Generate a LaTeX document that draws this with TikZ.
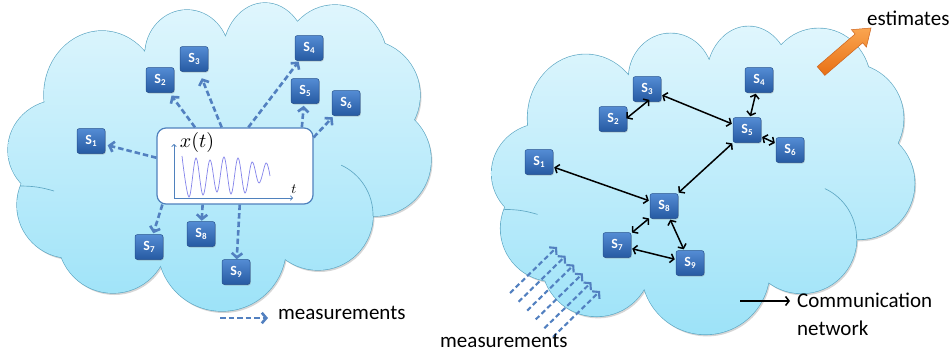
\documentclass[tikz,border=0pt]{standalone}
\usepackage[no-math]{fontspec}
\setmainfont{Carlito}
\usetikzlibrary{arrows.meta,shadows}

\definecolor{cloudtop}{RGB}{224,246,253}
\definecolor{cloudbot}{RGB}{155,226,248}
\definecolor{cloudline}{RGB}{95,168,196}
\definecolor{senstop}{RGB}{84,140,212}
\definecolor{sensbot}{RGB}{38,90,162}
\definecolor{sensline}{RGB}{36,80,142}
\definecolor{measblue}{RGB}{82,128,192}
\definecolor{axisblue}{RGB}{79,129,189}
\definecolor{wavecol}{RGB}{130,130,235}
\definecolor{orangetop}{RGB}{250,165,80}
\definecolor{orangebot}{RGB}{232,112,20}
\definecolor{orangeline}{RGB}{205,100,30}

\newcommand\cloudshape{(102,95) ellipse [x radius=58, y radius=64]
 (187,55) ellipse [x radius=42, y radius=45]
 (265,55) ellipse [x radius=42, y radius=52]
 (335,60) ellipse [x radius=52, y radius=55]
 (365,95) circle [radius=55]
 (375,160) circle [radius=56]
 (318,215) circle [radius=55]
 (222,247) circle [radius=64]
 (113,238) circle [radius=55]
 (70,205) circle [radius=53]
 (60,150) ellipse [x radius=52, y radius=50]
 (220,160) ellipse [x radius=150, y radius=110]}
\newcommand\slab[1]{S\kern0.2pt\raisebox{-2pt}{\fontsize{9}{9}\selectfont #1}}
\newcommand\labfont{\fontsize{21}{25}\selectfont}

\tikzset{
  cloudpic/.pic={
    \fill[black,opacity=.16,shift={(1.5,2)}] \cloudshape;
    \draw[cloudline,line width=1.3pt] \cloudshape;
    \begin{scope}
      \clip \cloudshape;
      \shade[top color=cloudtop,bottom color=cloudbot] (0,0) rectangle (440,320);
    \end{scope}
    \draw[cloudline,line width=.65pt] (318,215) ++(-65:55) arc[start angle=-65,end angle=1,radius=55];
    \draw[cloudline,line width=.65pt] (20,186) to[bend left=8] (54,191);
  },
  sensor/.style={rounded corners=2.5pt, minimum width=28pt, minimum height=25pt,
    inner sep=0pt, top color=senstop, bottom color=sensbot, draw=sensline,
    line width=0.5pt, text=white, font=\fontsize{14}{14}\selectfont\bfseries,
    drop shadow={shadow xshift=0.8pt, shadow yshift=-1pt, opacity=0.35}},
  meas/.style={measblue, line width=2.6pt, dash pattern=on 5.5pt off 3pt,
    -{Straight Barb[length=4.5pt,width=10.5pt]}},
  net/.style={black, line width=1.5pt,
    {Straight Barb[length=3.5pt,width=9pt]}-{Straight Barb[length=3.5pt,width=9pt]},
    shorten >=1pt, shorten <=1pt},
  lab/.style={font=\labfont, inner sep=0pt}
}

\begin{document}
\begin{tikzpicture}[x=1pt,y=-1pt]
\useasboundingbox (0,0) rectangle (951,356);

% clouds
\pic at (0,0) {cloudpic};
\begin{scope}[shift={(483.6,23.4)},xscale=0.917,yscale=0.925]
  \pic at (0,0) {cloudpic};
\end{scope}

% ---------- left: signal box ----------
\node[draw=axisblue, line width=1.2pt, fill=white, rounded corners=9pt,
      minimum width=156pt, minimum height=76pt, inner sep=0pt] (box) at (235,166) {};
\coordinate (ax0) at (174,198);
\coordinate (axy) at (174,144);
\coordinate (axx) at (293,198);
\draw[axisblue, line width=0.8pt, -{Straight Barb[length=2pt,width=4.5pt]}] (ax0) -- (axy);
\draw[axisblue, line width=0.8pt, -{Straight Barb[length=2pt,width=4.5pt]}] (ax0) -- (axx);
\node (xt) at (197,142) {\scalebox{2}{$x(t)$}};
\node (tl) at (294,189) {\scalebox{1.4}{$t$}};
\draw[wavecol, line width=0.7pt] plot[smooth, tension=0.6] coordinates {
 (182,156) (189,197) (196,158) (203,195) (210,160) (217,192) (224,157)
 (231,194) (238,158) (245,193) (252,162) (259,183) (266,163) (270,176)};

% left sensors
\node[sensor] (L1) at (91,141) {\slab{1}};
\node[sensor] (L2) at (160,80) {\slab{2}};
\node[sensor] (L3) at (194,59) {\slab{3}};
\node[sensor] (L4) at (309,48) {\slab{4}};
\node[sensor] (L5) at (305,91) {\slab{5}};
\node[sensor] (L6) at (346,103) {\slab{6}};
\node[sensor] (L7) at (149,247) {\slab{7}};
\node[sensor] (L8) at (201,234) {\slab{8}};
\node[sensor] (L9) at (236,272) {\slab{9}};

\draw[meas, shorten >=2.5pt] (box.174) -- (L1);
\draw[meas, shorten >=3.5pt] (box.136) -- (L2);
\draw[meas, shorten >=7pt] (box.109) -- (L3);
\draw[meas, shorten >=1pt] (box.71) -- (L4);
\draw[meas, shorten >=2pt] (box.30.3) -- (L5);
\draw[meas, shorten >=2pt] (box.20.4) -- (L6);
\draw[meas, shorten >=1pt] (box.208.8) -- (L7);
\draw[meas, shorten >=0.5pt] (box.230.8) -- (L8);
\draw[meas] (box.277.5) -- (L9);

% left legend
\coordinate (lg0) at (220,318);
\coordinate (lg1) at (268,318);
\draw[meas] (lg0) -- (lg1);
\node[lab, anchor=base west] (lgt) at (278,319) {measurements};

% ---------- right network ----------
\node[sensor] (R1) at (539,162) {\slab{1}};
\node[sensor] (R2) at (613,119) {\slab{2}};
\node[sensor] (R3) at (647,89) {\slab{3}};
\node[sensor] (R4) at (759,80) {\slab{4}};
\node[sensor] (R5) at (747,130) {\slab{5}};
\node[sensor] (R6) at (790,150) {\slab{6}};
\node[sensor] (R7) at (617,245) {\slab{7}};
\node[sensor] (R8) at (664,206) {\slab{8}};
\node[sensor] (R9) at (690,263) {\slab{9}};

\draw[net, shorten >=-3pt, shorten <=-1pt] (R2.5) -- (R3.south);
\draw[net] (R3) -- (R5);
\draw[net] (R4) -- (R5);
\draw[net] (R5) -- (R6);
\draw[net] (R1) -- (R8);
\draw[net] (R5) -- (R8);
\draw[net] (R8) -- (R7);
\draw[net] (R8) -- (R9);
\draw[net] (R7) -- (R9);

% incoming measurements
\foreach \i in {0,...,5} {
  \coordinate (mt\i) at ({510+8.6*\i},{293+8.8*\i});
  \coordinate (mh\i) at ({557+8.6*\i},{247+8.8*\i});
  \draw[meas, line width=2.1pt, dash pattern=on 5pt off 3pt] (mt\i) -- (mh\i);
}
\node[lab, anchor=base west] (rmt) at (440,347) {measurements};

% estimates arrow
\begin{scope}[shift={(821,71)}, rotate=40.7]
  \draw[orangeline, line width=0.5pt, top color=orangetop, bottom color=orangebot]
    (0,-5.8) -- (50,-5.8) -- (50,-11.5) -- (66,0) -- (50,11.5) -- (50,5.8) -- (0,5.8) -- cycle;
\end{scope}
\node[lab, anchor=base west] (est) at (867,25) {estimates};

% communication legend
\coordinate (cg0) at (740,301);
\coordinate (cg1) at (790,301);
\draw[black, line width=1.5pt, -{Straight Barb[length=3.5pt,width=9pt]}] (cg0) -- (cg1);
\node[lab, anchor=base west] (cm1) at (797,307) {Communication};
\node[lab, anchor=base west] (cm2) at (797,335) {network};
\end{tikzpicture}
\end{document}
